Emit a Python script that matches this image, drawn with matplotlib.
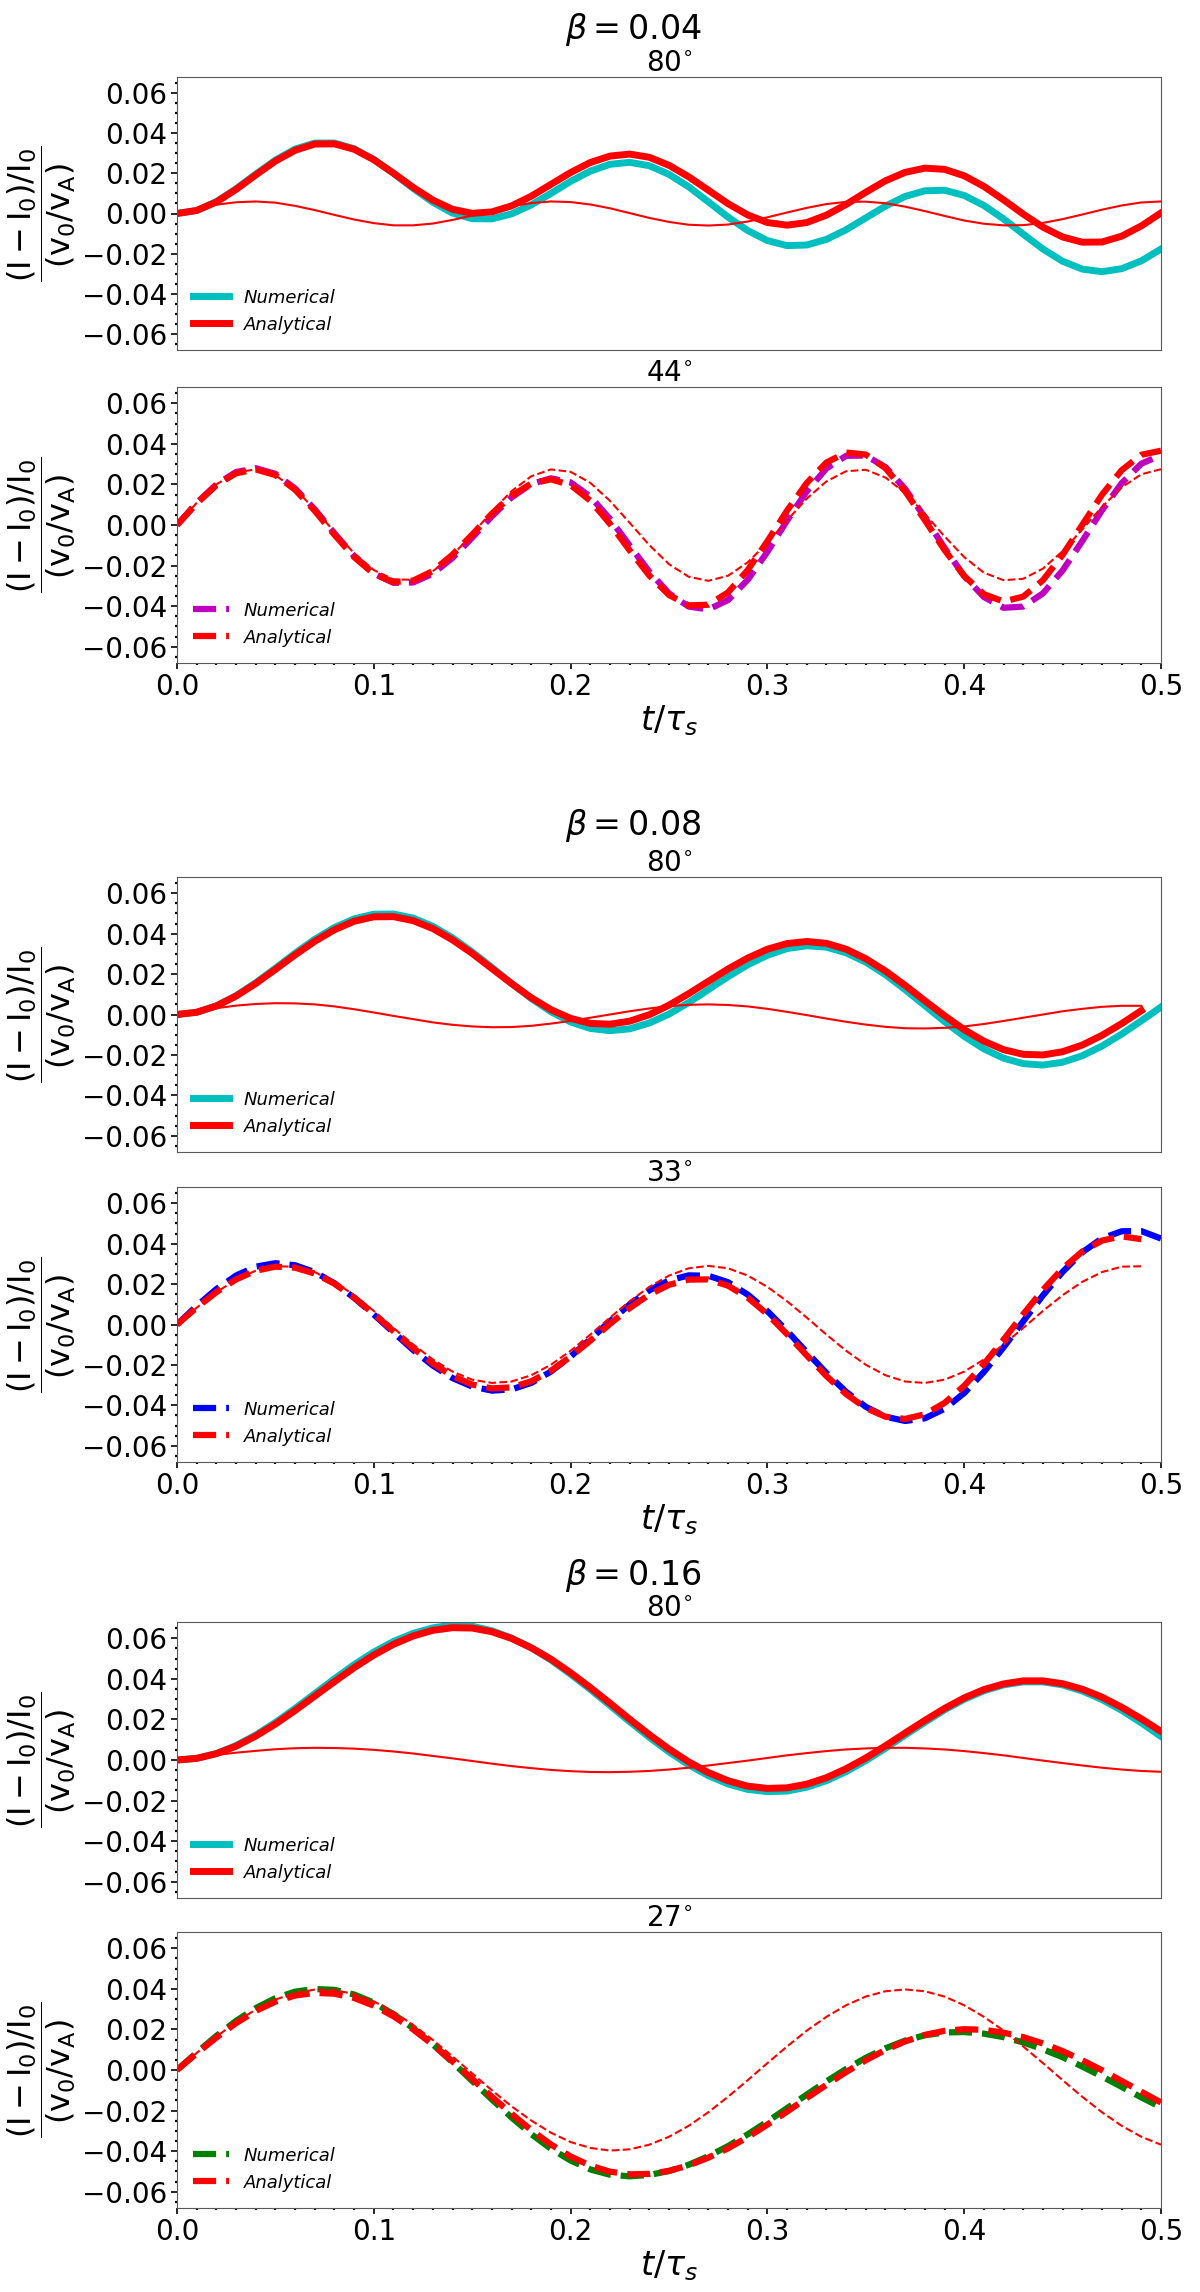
import matplotlib
matplotlib.use("Agg")
import matplotlib.pyplot as plt
from matplotlib.ticker import MultipleLocator

# sample times t/tau_s (values at these times)
T = [0.00, 0.01, 0.02, 0.03, 0.04, 0.05, 0.06, 0.07, 0.08, 0.09,
     0.10, 0.11, 0.12, 0.13, 0.14, 0.15, 0.16, 0.17, 0.18, 0.19,
     0.20, 0.21, 0.22, 0.23, 0.24, 0.25, 0.26, 0.27, 0.28, 0.29,
     0.30, 0.31, 0.32, 0.33, 0.34, 0.35, 0.36, 0.37, 0.38, 0.39,
     0.40, 0.41, 0.42, 0.43, 0.44, 0.45, 0.46, 0.47, 0.48, 0.49, 0.50]

betas = ['0.04', '0.08', '0.16']
angles_top = ['80', '80', '80']
angles_bot = ['44', '33', '27']
num_colors_bot = ['m', 'b', 'g']

# beta = 0.04, 80 deg
num_b04_80 = [0, .0015, .0059, .0123, .0196, .0266, .0321, .0351, .0351, .0323,
              .0269, .0200, .0125, .0056, .0002, -.0026, -.0027, -.0002, .0043, .0100,
              .0160, .0211, .0245, .0255, .0238, .0195, .0133, .0058, -.0018, -.0085,
              -.0135, -.0160, -.0157, -.0129, -.0081, -.0022, .0037, .0085, .0113, .0116,
              .0090, .0040, -.0027, -.0103, -.0177, -.0238, -.0277, -.0290, -.0275, -.0236,
              -.0177]
ana_b04_80 = [0, .0015, .0057, .0120, .0192, .0261, .0315, .0346, .0347, .0320,
              .0268, .0201, .0130, .0067, .0021, .0001, .0008, .0038, .0086, .0145,
              .0204, .0254, .0286, .0296, .0280, .0240, .0183, .0116, .0049, -.0007,
              -.0045, -.0058, -.0045, -.0008, .0045, .0106, .0163, .0205, .0226, .0220,
              .0188, .0135, .0068, -.0003, -.0068, -.0117, -.0143, -.0142, -.0113, -.0062,
              .0003]
thin_b04_80 = [0, .0024, .0044, .0056, .0060, .0054, .0038, .0017, -.0007, -.0030,
               -.0048, -.0059, -.0059, -.0050, -.0032, -.0010, .0015, .0036, .0052, .0060,
               .0057, .0045, .0026, .0002, -.0022, -.0042, -.0056, -.0060, -.0055, -.0040,
               -.0019, .0005, .0028, .0047, .0058, .0059, .0051, .0034, .0012, -.0012,
               -.0035, -.0051, -.0059, -.0058, -.0047, -.0028, -.0005, .0019, .0040, .0055,
               .0060]

# beta = 0.04, 44 deg
num_b04_44 = [0, .0109, .0200, .0261, .0280, .0252, .0180, .0077, -.0041, -.0153,
              -.0239, -.0285, -.0283, -.0240, -.0162, -.0062, .0043, .0136, .0202, .0230,
              .0210, .0140, .0030, -.0101, -.0230, -.0337, -.0402, -.0416, -.0370, -.0270,
              -.0132, .0022, .0166, .0279, .0341, .0342, .0285, .0178, .0037, -.0113,
              -.0252, -.0355, -.0408, -.0402, -.0337, -.0224, -.0079, .0072, .0206, .0302,
              .0344]
ana_b04_44 = [0, .0106, .0196, .0255, .0274, .0246, .0174, .0070, -.0048, -.0158,
              -.0241, -.0281, -.0274, -.0227, -.0146, -.0047, .0056, .0144, .0204, .0225,
              .0197, .0120, .0006, -.0125, -.0249, -.0345, -.0396, -.0393, -.0332, -.0222,
              -.0080, .0071, .0207, .0308, .0357, .0347, .0280, .0166, .0024, -.0123,
              -.0251, -.0341, -.0377, -.0353, -.0272, -.0147, .0001, .0149, .0270, .0346,
              .0366]
thin_b04_44 = [0, .0109, .0200, .0259, .0274, .0245, .0176, .0078, -.0034, -.0139,
               -.0222, -.0268, -.0270, -.0228, -.0149, -.0045, .0067, .0167, .0240, .0274,
               .0262, .0208, .0119, .0011, -.0099, -.0193, -.0255, -.0275, -.0250, -.0184,
               -.0088, .0023, .0130, .0215, .0265, .0272, .0234, .0157, .0055, -.0056,
               -.0158, -.0235, -.0272, -.0265, -.0215, -.0129, -.0022, .0089, .0185, .0250,
               .0275]

# beta = 0.08, 80 deg (analytical curves stop at t = 0.49)
num_b08_80 = [0, .0011, .0043, .0093, .0157, .0229, .0303, .0372, .0430, .0473,
              .0496, .0497, .0477, .0436, .0379, .0309, .0233, .0154, .0079, .0014,
              -.0037, -.0069, -.0080, -.0071, -.0042, .0002, .0059, .0123, .0187, .0246,
              .0293, .0326, .0340, .0333, .0305, .0259, .0197, .0123, .0044, -.0035,
              -.0108, -.0170, -.0216, -.0243, -.0250, -.0236, -.0204, -.0156, -.0097, -.0031,
              .0037]
ana_b08_80 = [0, .0011, .0042, .0091, .0153, .0223, .0295, .0362, .0419, .0461,
              .0483, .0484, .0464, .0425, .0369, .0302, .0227, .0153, .0083, .0024,
              -.0019, -.0044, -.0048, -.0033, -.0001, .0046, .0103, .0164, .0225, .0279,
              .0323, .0351, .0361, .0352, .0323, .0276, .0215, .0144, .0068, -.0006,
              -.0075, -.0132, -.0174, -.0197, -.0200, -.0184, -.0151, -.0103, -.0045, .0019]
thin_b08_80 = [0, .0016, .0031, .0044, .0052, .0056, .0055, .0050, .0040, .0026,
               .0010, -.0007, -.0023, -.0039, -.0051, -.0059, -.0063, -.0062, -.0056, -.0045,
               -.0032, -.0016, .0000, .0016, .0030, .0041, .0048, .0050, .0047, .0040,
               .0028, .0013, -.0003, -.0020, -.0036, -.0050, -.0061, -.0068, -.0069, -.0066,
               -.0059, -.0047, -.0032, -.0016, .0000, .0016, .0028, .0038, .0043, .0043]

# beta = 0.08, 33 deg
num_b08_33 = [0, .0092, .0175, .0242, .0286, .0303, .0293, .0259, .0204, .0132,
              .0049, -.0039, -.0126, -.0203, -.0265, -.0307, -.0327, -.0321, -.0289, -.0233,
              -.0158, -.0073, .0016, .0099, .0169, .0218, .0243, .0241, .0209, .0148,
              .0066, -.0032, -.0137, -.0240, -.0333, -.0407, -.0456, -.0477, -.0464, -.0417,
              -.0339, -.0235, -.0113, .0016, .0144, .0260, .0357, .0426, .0461, .0462,
              .0425]
ana_b08_33 = [0, .0084, .0160, .0223, .0266, .0286, .0281, .0252, .0202, .0133,
              .0053, -.0033, -.0117, -.0193, -.0255, -.0297, -.0316, -.0311, -.0281, -.0229,
              -.0159, -.0080, .0003, .0081, .0148, .0196, .0222, .0223, .0192, .0133,
              .0051, -.0048, -.0153, -.0255, -.0344, -.0413, -.0456, -.0467, -.0444, -.0388,
              -.0303, -.0196, -.0075, .0051, .0171, .0277, .0361, .0415, .0436, .0422]
thin_b08_33 = [0, .0083, .0159, .0222, .0266, .0288, .0286, .0259, .0211, .0145,
               .0067, -.0017, -.0099, -.0173, -.0233, -.0273, -.0289, -.0282, -.0251, -.0199,
               -.0130, -.0050, .0034, .0115, .0186, .0242, .0278, .0290, .0278, .0242,
               .0186, .0115, .0034, -.0050, -.0130, -.0199, -.0251, -.0282, -.0289, -.0273,
               -.0233, -.0173, -.0099, -.0017, .0067, .0145, .0211, .0259, .0286, .0288]

# beta = 0.16, 80 deg
num_b16_80 = [0, .0008, .0032, .0071, .0123, .0185, .0254, .0327, .0400, .0470,
              .0532, .0584, .0624, .0651, .0665, .0659, .0637, .0601, .0553, .0493,
              .0423, .0348, .0269, .0189, .0112, .0040, -.0024, -.0077, -.0118, -.0145,
              -.0156, -.0153, -.0134, -.0102, -.0057, -.0003, .0058, .0123, .0186, .0247,
              .0299, .0341, .0370, .0385, .0385, .0370, .0340, .0298, .0245, .0183,
              .0116]
ana_b16_80 = [0, .0008, .0031, .0068, .0118, .0177, .0244, .0315, .0386, .0455,
              .0517, .0570, .0611, .0639, .0652, .0650, .0632, .0599, .0553, .0497,
              .0430, .0357, .0280, .0201, .0125, .0054, -.0009, -.0062, -.0102, -.0129,
              -.0140, -.0137, -.0119, -.0087, -.0043, .0010, .0070, .0133, .0195, .0254,
              .0306, .0347, .0375, .0390, .0390, .0376, .0349, .0310, .0260, .0203,
              .0141]
thin_b16_80 = [0, .0013, .0025, .0036, .0045, .0053, .0058, .0060, .0059, .0056,
               .0050, .0042, .0032, .0020, .0008, -.0005, -.0018, -.0030, -.0040, -.0049,
               -.0055, -.0059, -.0060, -.0058, -.0054, -.0047, -.0038, -.0027, -.0015, -.0003,
               .0010, .0023, .0034, .0044, .0052, .0057, .0060, .0060, .0057, .0052,
               .0044, .0034, .0023, .0010, -.0003, -.0015, -.0027, -.0038, -.0047, -.0054,
               -.0058]

# beta = 0.16, 27 deg
num_b16_27 = [0, .0086, .0168, .0242, .0305, .0354, .0386, .0399, .0395, .0372,
              .0332, .0275, .0206, .0126, .0038, -.0054, -.0145, -.0234, -.0316, -.0388,
              -.0446, -.0490, -.0516, -.0524, -.0517, -.0498, -.0467, -.0425, -.0375, -.0317,
              -.0254, -.0188, -.0121, -.0056, .0005, .0060, .0107, .0145, .0171, .0185,
              .0187, .0179, .0162, .0136, .0102, .0063, .0017, -.0032, -.0083, -.0135,
              -.0184]
ana_b16_27 = [0, .0082, .0160, .0231, .0291, .0337, .0367, .0380, .0376, .0355,
              .0317, .0265, .0200, .0125, .0042, -.0044, -.0132, -.0216, -.0296, -.0367,
              -.0426, -.0471, -.0501, -.0514, -.0512, -.0497, -.0470, -.0432, -.0386, -.0331,
              -.0269, -.0205, -.0138, -.0073, -.0010, .0048, .0099, .0141, .0173, .0193,
              .0201, .0198, .0184, .0162, .0131, .0093, .0048, -.0001, -.0054, -.0107,
              -.0160]
thin_b16_27 = [0, .0084, .0164, .0236, .0298, .0347, .0380, .0396, .0394, .0374,
               .0338, .0287, .0222, .0148, .0067, -.0017, -.0100, -.0179, -.0249, -.0309,
               -.0355, -.0384, -.0397, -.0391, -.0368, -.0329, -.0275, -.0208, -.0132, -.0050,
               .0034, .0116, .0194, .0262, .0319, .0362, .0388, .0397, .0388, .0362,
               .0319, .0262, .0194, .0116, .0034, -.0050, -.0132, -.0208, -.0275, -.0329,
               -.0368]

top_panels = [(num_b04_80, ana_b04_80, thin_b04_80),
              (num_b08_80, ana_b08_80, thin_b08_80),
              (num_b16_80, ana_b16_80, thin_b16_80)]
bot_panels = [(num_b04_44, ana_b04_44, thin_b04_44),
              (num_b08_33, ana_b08_33, thin_b08_33),
              (num_b16_27, ana_b16_27, thin_b16_27)]

YLABEL = r'$\dfrac{(\mathrm{I}-\mathrm{I}_0)/\mathrm{I}_0}{(\mathrm{v}_0/\mathrm{v}_\mathrm{A})}$'

W, H = 1200.0, 2292.0
fig = plt.figure(figsize=(W / 100, H / 100), dpi=100)

left, width = 177 / W, 984 / W
top_px = [(77, 350), (877, 1152), (1622, 1898)]
bot_px = [(387, 663), (1187, 1462), (1932, 2208)]
beta_y = [29, 826, 1575]


def make_ax(px):
    y0, y1 = px
    ax = fig.add_axes([left, 1 - y1 / H, width, (y1 - y0) / H])
    ax.set_xlim(0, 0.5)
    ax.set_ylim(-0.068, 0.068)
    ax.xaxis.set_major_locator(MultipleLocator(0.1))
    ax.xaxis.set_minor_locator(MultipleLocator(0.01))
    ax.yaxis.set_major_locator(MultipleLocator(0.02))
    ax.yaxis.set_minor_locator(MultipleLocator(0.005))
    ax.tick_params(which='major', labelsize=20, length=4, width=1.2, pad=3)
    ax.tick_params(which='minor', length=1.6, width=1.6)
    for sp in ax.spines.values():
        sp.set_color('0.35')
    ax.set_ylabel(YLABEL, fontsize=23, labelpad=3)
    return ax


for i in range(3):
    n, a, th = top_panels[i]
    ax = make_ax(top_px[i])
    ax.plot(T[:len(n)], n, color='c', lw=5, label='Numerical')
    ax.plot(T[:len(a)], a, color='r', lw=5, label='Analytical')
    ax.plot(T[:len(th)], th, color='r', lw=1.5)
    ax.tick_params(axis='x', which='both', bottom=False, labelbottom=False)
    ax.set_title(r'$%s^{\circ}$' % angles_top[i], fontsize=20, pad=3)
    ax.legend(loc='lower left', frameon=False, prop={'style': 'italic', 'size': 13})

    n, a, th = bot_panels[i]
    ax = make_ax(bot_px[i])
    ax.plot(T[:len(n)], n, color=num_colors_bot[i], lw=4.5, ls='--', label='Numerical')
    ax.plot(T[:len(a)], a, color='r', lw=4.5, ls='--', label='Analytical')
    ax.plot(T[:len(th)], th, color='r', lw=1.5, ls='--')
    ax.set_title(r'$%s^{\circ}$' % angles_bot[i], fontsize=20, pad=3)
    ax.set_xlabel(r'$t/\tau_s$', fontsize=24, labelpad=2)
    ax.legend(loc='lower left', frameon=False, prop={'style': 'italic', 'size': 13})

    fig.text(0.528, 1 - beta_y[i] / H, r'$\beta=%s$' % betas[i],
             fontsize=24, ha='center', va='center')

fig.savefig('out.png', dpi=100)
